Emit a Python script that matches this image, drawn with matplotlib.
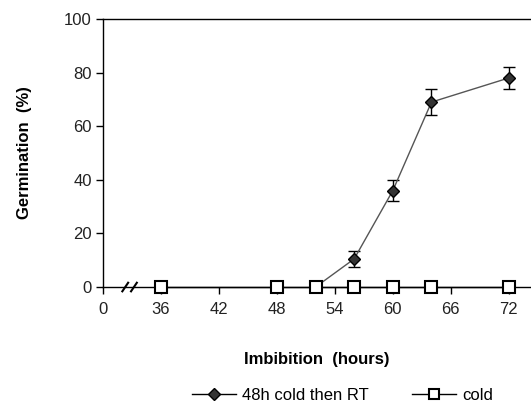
import numpy as np
import matplotlib
matplotlib.use("Agg")
from matplotlib import pyplot as plt
from matplotlib.lines import Line2D

plt.rcParams['font.family'] = ['Liberation Sans', 'DejaVu Sans']

# data (x axis is broken: position 30 is labelled "0")
hours_rt = [52, 56, 60, 64, 72]
germ_rt = [0, 10.5, 36, 69, 78]
err_rt = [0, 3, 4, 5, 4]

hours_cold = [36, 48, 52, 56, 60, 64, 72]
germ_cold = [0, 0, 0, 0, 0, 0, 0]

xticks = [30, 36, 42, 48, 54, 60, 66, 72]
xticklabels = ['0', '36', '42', '48', '54', '60', '66', '72']

fig = plt.figure(figsize=(5.31, 4.13), dpi=100)
ax = fig.add_axes([0.194, 0.305, 0.806, 0.649])

ax.errorbar(hours_rt, germ_rt, yerr=err_rt, color='#555555', lw=1,
            marker='D', ms=6, mfc='#333333', mec='black', mew=1,
            ecolor='black', elinewidth=1, capsize=4, capthick=1,
            zorder=3)
ax.plot(hours_cold, germ_cold, color='black', lw=1, marker='s', ms=8,
        mfc='white', mec='black', mew=1.5, zorder=4, clip_on=False)

ax.set_xlim(30, 74.3)
ax.set_ylim(0, 100)
ax.set_xticks(xticks)
ax.set_xticklabels(xticklabels)
ax.set_yticks([0, 20, 40, 60, 80, 100])
ax.spines['right'].set_visible(False)
ax.tick_params(axis='both', labelsize=12, colors='black', labelcolor='#222222',
               length=5, width=1, direction='out')
ax.tick_params(axis='x', pad=6)
ax.tick_params(axis='y', pad=3)
for s in ax.spines.values():
    s.set_linewidth(1)

# break marks on the x axis
for xb in [32.3, 33.2]:
    ax.plot([xb - 0.3, xb + 0.3], [-1.6, 1.6], color='black', lw=1.5,
            clip_on=False, zorder=5)

ax.set_ylabel('Germination  (%)', fontsize=12, fontweight='bold', labelpad=23)
ax.set_xlabel('Imbibition  (hours)', fontsize=12, fontweight='bold', labelpad=25)

handles = [
    Line2D([], [], color='black', lw=1, marker='D', ms=6, mfc='#333333',
           mec='black'),
    Line2D([], [], color='black', lw=1, marker='s', ms=7, mfc='white',
           mec='black', mew=1.5),
]
ax.legend(handles, ['48h cold then RT', 'cold'], loc='upper center',
          bbox_to_anchor=(0.56, -0.32), ncol=2, frameon=False, fontsize=12,
          handlelength=2.6, columnspacing=2.6, handletextpad=0.4)

fig.savefig('out.png', dpi=100)
